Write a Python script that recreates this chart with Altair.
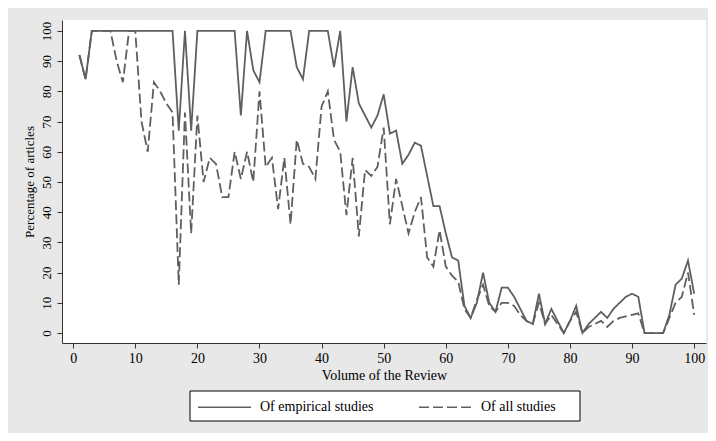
import altair as alt
import pandas as pd

volumes = list(range(1, 101))

empirical = [
    92, 84, 100, 100, 100, 100, 100, 100, 100, 100,
    100, 100, 100, 100, 100, 100, 67, 100, 67, 100,
    100, 100, 100, 100, 100, 100, 72, 100, 87, 83,
    100, 100, 100, 100, 100, 88, 84, 100, 100, 100,
    100, 88, 100, 70, 88, 76, 72, 68, 72, 79,
    66, 67, 56, 59, 63, 62, 52, 42, 42, 33,
    25, 24, 9, 5, 10, 20, 10, 7, 15, 15,
    12, 8, 4, 3, 13, 3, 8, 4, 0, 4,
    9, 0, 3, 5, 7, 5, 8, 10, 12, 13,
    12, 0, 0, 0, 0, 6, 16, 18, 24, 13,
]

all_studies = [
    92, 84, 100, 100, 100, 100, 90, 83, 100, 100,
    70, 60, 83, 80, 76, 73, 16, 73, 33, 72,
    50, 58, 56, 45, 45, 60, 51, 60, 50, 80,
    55, 58, 41, 58, 36, 64, 56, 55, 51, 75,
    80, 64, 60, 39, 58, 32, 54, 52, 55, 68,
    36, 51, 42, 33, 40, 45, 25, 22, 34, 22,
    19, 17, 8, 5, 11, 16, 9, 7, 10, 10,
    9, 6, 4, 3, 10, 3, 6, 3, 0, 4,
    7, 0, 2, 3, 4, 2, 4, 5, 5.5, 6,
    6.5, 0, 0, 0, 0, 5, 10, 12, 20, 6,
]

series_names = ["Of empirical studies", "Of all studies"]
x_ticks = [0, 10, 20, 30, 40, 50, 60, 70, 80, 90, 100]
y_ticks = [0, 10, 20, 30, 40, 50, 60, 70, 80, 90, 100]

df = pd.concat([
    pd.DataFrame({"volume": volumes, "pct": empirical, "series": series_names[0]}),
    pd.DataFrame({"volume": volumes, "pct": all_studies, "series": series_names[1]}),
])

FONT = "Liberation Serif"

# legend frame (drawn under the legend, which has no box of its own)
legend_box = alt.Chart(pd.DataFrame({"k": [0]})).mark_rect(
    fill="white", stroke="black", strokeWidth=1
).encode(
    x=alt.value(128), x2=alt.value(518), y=alt.value(371), y2=alt.value(401)
)

lines = alt.Chart(df).mark_line(color="#5f5f5f", strokeWidth=1.8).encode(
    x=alt.X("volume:Q",
            scale=alt.Scale(domain=[-1.8, 101.9], nice=False, zero=False),
            axis=alt.Axis(values=x_ticks, title="Volume of the Review", grid=False,
                          tickSize=5, labelPadding=3, titlePadding=3,
                          labelFontSize=14, titleFontSize=14)),
    y=alt.Y("pct:Q",
            scale=alt.Scale(domain=[-3.3, 103.6], nice=False, zero=False),
            axis=alt.Axis(values=y_ticks, title="Percentage of articles", grid=False,
                          tickSize=5, labelPadding=4, titlePadding=4,
                          labelAngle=270, labelAlign="center", labelBaseline="bottom",
                          labelFontSize=13, titleFontSize=13)),
    strokeDash=alt.StrokeDash("series:N",
                              scale=alt.Scale(domain=series_names, range=[[1, 0], [10, 4]]),
                              sort=series_names,
                              legend=alt.Legend(title=None, orient="none", direction="horizontal",
                                                legendX=135, legendY=359.5,
                                                padding=0, columnPadding=42,
                                                symbolType="stroke", symbolSize=2809,
                                                symbolStrokeColor="#5f5f5f",
                                                symbolStrokeWidth=1.5,
                                                labelFontSize=14, labelOffset=8,
                                                labelFont=FONT, labelColor="black")),
)

chart = alt.layer(legend_box, lines).properties(
    width=644,
    height=323,
    autosize=alt.AutoSizeParams(type="none"),
    padding={"left": 54, "top": 12, "right": 2, "bottom": 90},
    background="#e8e8e8",
).configure_view(
    fill="white", stroke=None
).configure_axis(
    labelFont=FONT, titleFont=FONT, titleFontWeight="normal",
    labelColor="black", titleColor="black",
    domainColor="#333", tickColor="#333"
)

chart.save("out.html", embed_options={"renderer": "svg", "actions": False})
